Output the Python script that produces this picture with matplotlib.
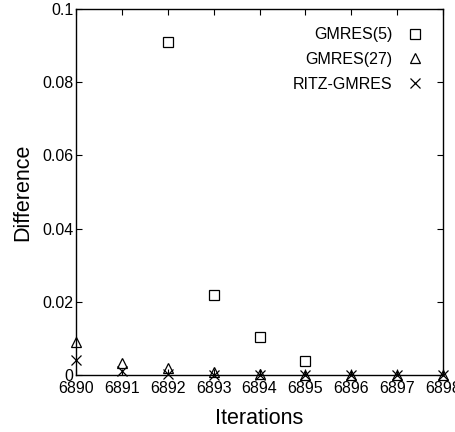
import numpy as np
import matplotlib
matplotlib.use('Agg')
import matplotlib.pyplot as plt

plt.rcParams['font.family'] = ['Liberation Sans', 'DejaVu Sans']

iters = [6890, 6891, 6892, 6893, 6894, 6895, 6896, 6897, 6898]
gmres5_x = [6892, 6893, 6894, 6895]
gmres5 = [0.0909, 0.0219, 0.0105, 0.0039]
gmres27 = [0.0089, 0.0032, 0.0018, 0.0007, 0.0002, 0.0001, 0.0, 0.0, 0.0]
ritz = [0.0041, 0.0012, 0.0003, 0.0001, 0.0001, 0.0, 0.0, 0.0, 0.0]

fig = plt.figure(figsize=(4.55, 4.32), dpi=100)
ax = fig.add_axes([76/455, 1 - 375/432, 367/455, 366/432])

ax.plot(gmres5_x, gmres5, ls='none', marker='s', ms=7, mfc='none', mec='black', mew=0.9,
        label='GMRES(5)', clip_on=False)
ax.plot(iters, gmres27, ls='none', marker='^', ms=7, mfc='none', mec='black', mew=0.9,
        label='GMRES(27)', clip_on=False)
ax.plot(iters, ritz, ls='none', marker='x', ms=7, mec='black', mew=0.9,
        label='RITZ-GMRES', clip_on=False)

ax.set_xlim(6890, 6898)
ax.set_ylim(0, 0.1)
ax.set_xticks(iters)
ax.set_xticklabels([str(i) for i in iters])
ax.set_yticks([0, 0.02, 0.04, 0.06, 0.08, 0.1])
ax.set_yticklabels(['0', '0.02', '0.04', '0.06', '0.08', '0.1'])
ax.tick_params(direction='in', top=True, right=True, length=4, width=0.8,
               labelsize=11.5, pad=2)
ax.tick_params(axis='x', pad=4)
for s in ax.spines.values():
    s.set_linewidth(1.0)

ax.set_xlabel('Iterations', fontsize=15.5, labelpad=9)
ax.set_ylabel('Difference', fontsize=15.5, labelpad=6)

ax.legend(loc='upper right', frameon=False, markerfirst=False, fontsize=11.5,
          handletextpad=0.8, borderaxespad=0.75, labelspacing=0.6, handlelength=1.2)

fig.savefig('out.png', dpi=100)
